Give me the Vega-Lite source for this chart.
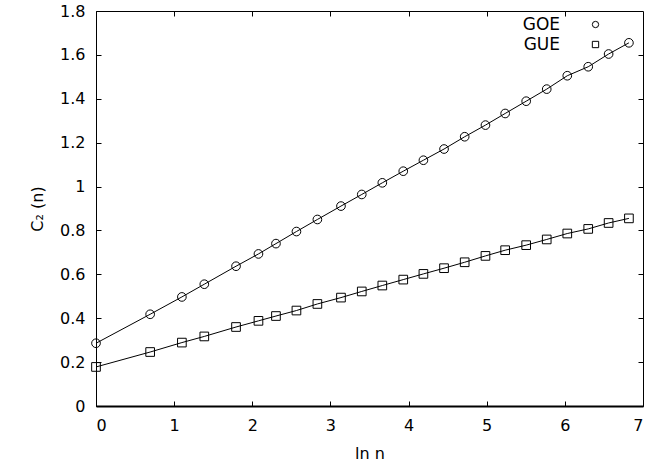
{
  "$schema": "https://vega.github.io/schema/vega-lite/v6.json",
  "width": 547,
  "height": 395,
  "autosize": {"type": "none"},
  "padding": {"left": 96, "top": 11, "right": 6, "bottom": 60},
  "background": "white",
  "config": {
    "view": {"stroke": "black", "strokeWidth": 1},
    "font": "DejaVu Sans",
    "axis": {
      "grid": false,
      "domainColor": "black",
      "tickColor": "black",
      "labelColor": "black",
      "titleColor": "black",
      "labelFontSize": 16,
      "titleFontSize": 16,
      "titleFontWeight": "normal",
      "tickSize": -5,
      "labelFont": "DejaVu Sans",
      "titleFont": "DejaVu Sans"
    }
  },
  "data": {
    "values": [
      {"x": 0, "y": 0.286, "ens": "GOE"},
      {"x": 0.693, "y": 0.418, "ens": "GOE"},
      {"x": 1.099, "y": 0.497, "ens": "GOE"},
      {"x": 1.386, "y": 0.555, "ens": "GOE"},
      {"x": 1.792, "y": 0.637, "ens": "GOE"},
      {"x": 2.079, "y": 0.693, "ens": "GOE"},
      {"x": 2.303, "y": 0.74, "ens": "GOE"},
      {"x": 2.565, "y": 0.795, "ens": "GOE"},
      {"x": 2.833, "y": 0.85, "ens": "GOE"},
      {"x": 3.135, "y": 0.911, "ens": "GOE"},
      {"x": 3.401, "y": 0.964, "ens": "GOE"},
      {"x": 3.664, "y": 1.017, "ens": "GOE"},
      {"x": 3.932, "y": 1.07, "ens": "GOE"},
      {"x": 4.19, "y": 1.12, "ens": "GOE"},
      {"x": 4.454, "y": 1.171, "ens": "GOE"},
      {"x": 4.718, "y": 1.227, "ens": "GOE"},
      {"x": 4.984, "y": 1.28, "ens": "GOE"},
      {"x": 5.236, "y": 1.333, "ens": "GOE"},
      {"x": 5.505, "y": 1.389, "ens": "GOE"},
      {"x": 5.768, "y": 1.444, "ens": "GOE"},
      {"x": 6.031, "y": 1.505, "ens": "GOE"},
      {"x": 6.299, "y": 1.546, "ens": "GOE"},
      {"x": 6.56, "y": 1.604, "ens": "GOE"},
      {"x": 6.82, "y": 1.655, "ens": "GOE"},
      {"x": 0, "y": 0.178, "ens": "GUE"},
      {"x": 0.693, "y": 0.246, "ens": "GUE"},
      {"x": 1.099, "y": 0.289, "ens": "GUE"},
      {"x": 1.386, "y": 0.317, "ens": "GUE"},
      {"x": 1.792, "y": 0.36, "ens": "GUE"},
      {"x": 2.079, "y": 0.388, "ens": "GUE"},
      {"x": 2.303, "y": 0.41, "ens": "GUE"},
      {"x": 2.565, "y": 0.435, "ens": "GUE"},
      {"x": 2.833, "y": 0.465, "ens": "GUE"},
      {"x": 3.135, "y": 0.494, "ens": "GUE"},
      {"x": 3.401, "y": 0.522, "ens": "GUE"},
      {"x": 3.664, "y": 0.549, "ens": "GUE"},
      {"x": 3.932, "y": 0.576, "ens": "GUE"},
      {"x": 4.19, "y": 0.602, "ens": "GUE"},
      {"x": 4.454, "y": 0.628, "ens": "GUE"},
      {"x": 4.718, "y": 0.655, "ens": "GUE"},
      {"x": 4.984, "y": 0.684, "ens": "GUE"},
      {"x": 5.236, "y": 0.71, "ens": "GUE"},
      {"x": 5.505, "y": 0.733, "ens": "GUE"},
      {"x": 5.768, "y": 0.759, "ens": "GUE"},
      {"x": 6.031, "y": 0.786, "ens": "GUE"},
      {"x": 6.299, "y": 0.807, "ens": "GUE"},
      {"x": 6.56, "y": 0.834, "ens": "GUE"},
      {"x": 6.82, "y": 0.855, "ens": "GUE"}
    ]
  },
  "layer": [
    {
      "mark": {"type": "line", "color": "black", "strokeWidth": 1},
      "encoding": {
        "x": {
          "field": "x", "type": "quantitative",
          "scale": {"domain": [0, 7], "nice": false},
          "axis": {"orient": "bottom", "title": "ln n", "values": [0, 1, 2, 3, 4, 5, 6, 7], "labelExpr": "datum.value + ''", "domainWidth": 2, "labelPadding": 16, "titlePadding": 12}
        },
        "y": {
          "field": "y", "type": "quantitative",
          "scale": {"domain": [0, 1.8], "nice": false},
          "axis": {"orient": "left", "title": "C₂ (n)", "values": [0, 0.2, 0.4, 0.6, 0.8, 1, 1.2, 1.4, 1.6, 1.8], "labelExpr": "datum.value + ''", "labelPadding": 16, "titlePadding": 14}
        },
        "detail": {"field": "ens", "type": "nominal"}
      }
    },
    {
      "mark": {"type": "point", "filled": false, "color": "black", "size": 75, "strokeWidth": 1, "opacity": 1},
      "encoding": {
        "x": {
          "field": "x", "type": "quantitative",
          "scale": {"domain": [0, 7], "nice": false},
          "axis": {"orient": "top", "title": null, "labels": false, "values": [1, 2, 3, 4, 5, 6], "domain": false}
        },
        "y": {
          "field": "y", "type": "quantitative",
          "scale": {"domain": [0, 1.8], "nice": false},
          "axis": {"orient": "right", "title": null, "labels": false, "values": [0.2, 0.4, 0.6, 0.8, 1, 1.2, 1.4, 1.6], "domain": false}
        },
        "shape": {
          "field": "ens", "type": "nominal",
          "scale": {"domain": ["GOE", "GUE"], "range": ["circle", "square"]},
          "legend": {
            "title": null,
            "orient": "none",
            "legendX": 491,
            "legendY": 5,
            "labelAlign": "right",
            "labelOffset": -44,
            "labelFontSize": 17,
            "labelFont": "DejaVu Sans",
            "labelColor": "black",
            "symbolSize": 40,
            "symbolStrokeColor": "black",
            "symbolFillColor": "transparent",
            "symbolStrokeWidth": 1,
            "rowPadding": 2
          }
        }
      }
    }
  ],
  "resolve": {"axis": {"x": "independent", "y": "independent"}}
}
